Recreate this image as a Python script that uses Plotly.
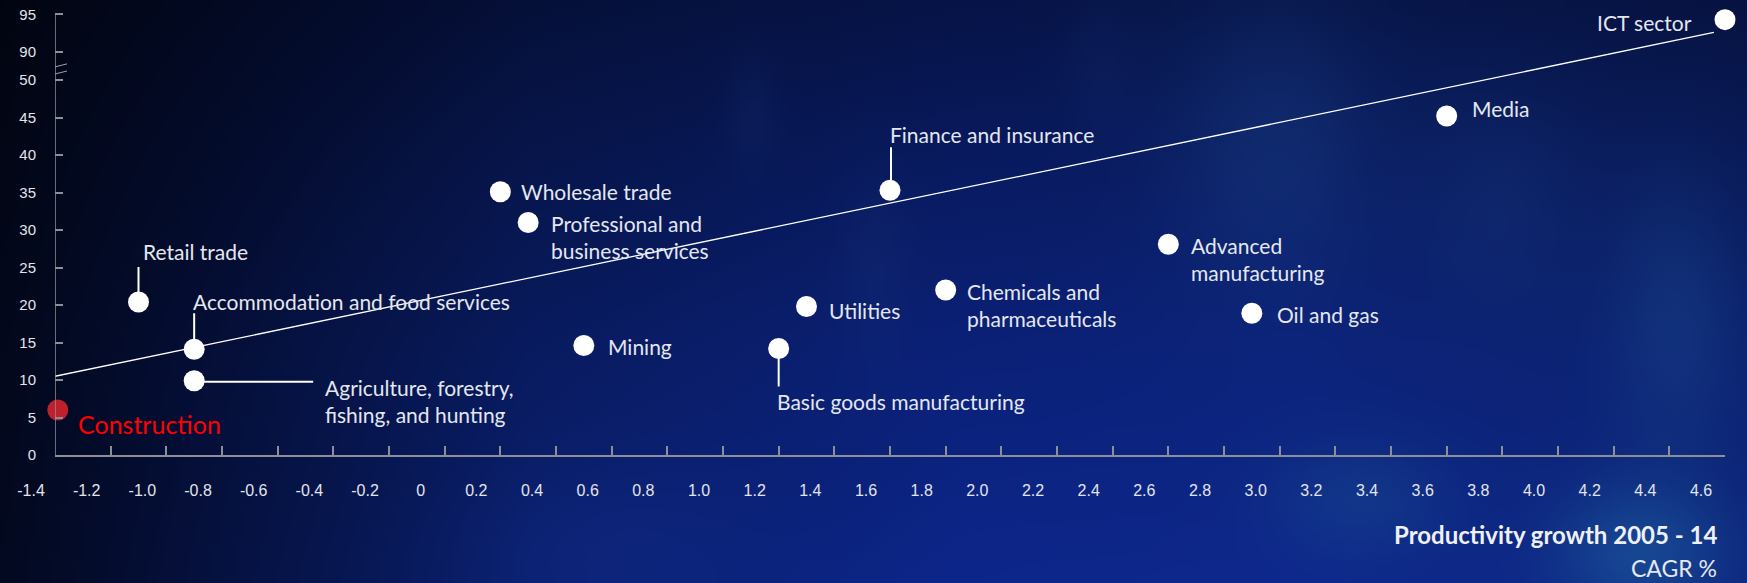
import base64
import struct
import zlib

import numpy as np
import plotly.graph_objects as go

# ---------------- data ----------------
sectors = [
    "Construction", "Retail trade", "Accommodation and food services",
    "Agriculture, forestry, fishing, and hunting", "Wholesale trade",
    "Professional and business services", "Mining", "Basic goods manufacturing",
    "Utilities", "Finance and insurance", "Chemicals and pharmaceuticals",
    "Advanced manufacturing", "Oil and gas", "Media", "ICT sector",
]
productivity_growth = [-1.39, -1.1, -0.9, -0.9, 0.2, 0.3, 0.5, 1.2, 1.3, 1.6, 1.8, 2.6, 2.9, 3.6, 4.6]
sector_value = [6.0, 20.4, 14.1, 9.9, 35.1, 31.0, 14.6, 14.2, 19.8, 35.3, 22.0, 28.1, 18.9, 45.2, 94.3]

trend_x = [-1.4, 4.56]
trend_y = [10.5, 92.6]

x_tick_values = [-1.4, -1.2, -1.0, -0.8, -0.6, -0.4, -0.2, 0.0, 0.2, 0.4, 0.6, 0.8, 1.0, 1.2, 1.4, 1.6,
                 1.8, 2.0, 2.2, 2.4, 2.6, 2.8, 3.0, 3.2, 3.4, 3.6, 3.8, 4.0, 4.2, 4.4, 4.6]
x_tick_labels = ["-1.4", "-1.2", "-1.0", "-0.8", "-0.6", "-0.4", "-0.2", "0", "0.2", "0.4", "0.6", "0.8",
                 "1.0", "1.2", "1.4", "1.6", "1.8", "2.0", "2.2", "2.4", "2.6", "2.8", "3.0", "3.2",
                 "3.4", "3.6", "3.8", "4.0", "4.2", "4.4", "4.6"]
y_tick_values = [0, 5, 10, 15, 20, 25, 30, 35, 40, 45, 50, 90, 95]
y_tick_labels = ["0", "5", "10", "15", "20", "25", "30", "35", "40", "45", "50", "90", "95"]

x_title = "Productivity growth 2005 - 14"
x_subtitle = "CAGR %"

# ---------------- broken y-axis (50 -> 90 compressed) ----------------
BREAK_LO, BREAK_HI, BREAK_GAP = 50.0, 90.0, 3.75


def to_display(v):
    v = float(v)
    if v <= BREAK_LO:
        return v
    if v >= BREAK_HI:
        return v - (BREAK_HI - BREAK_LO) + BREAK_GAP
    return BREAK_LO + (v - BREAK_LO) / (BREAK_HI - BREAK_LO) * BREAK_GAP


# ---------------- style / layout constants ----------------
W, H = 1747, 583
ML, MR, MT, MB = 55, 22, 0, 128
PX_PER_UNIT_Y = 7.5
Y_TOP = (H - MT - MB) / PX_PER_UNIT_Y

LABEL_FONT = dict(family="Lato", size=21, color="#e4e7ee")
TICK_FONT_X = dict(family="Liberation Sans, Arial", size=16, color="#e2e4ea")
TICK_FONT_Y = dict(family="Liberation Sans, Arial", size=15, color="#e2e4ea")
AXIS_COLOR = "#8e8e96"

# label placement: (xanchor, dx px, dy px downward)
label_place = {
    "Construction": ("left", 18, 14),
    "Retail trade": ("left", 2, -51),
    "Accommodation and food services": ("left", -3, -48),
    "Agriculture, forestry, fishing, and hunting": ("left", 129, 20),
    "Wholesale trade": ("left", 19, 0),
    "Professional and business services": ("left", 21, 14),
    "Mining": ("left", 22, 1),
    "Basic goods manufacturing": ("left", -4, 53),
    "Utilities": ("left", 20, 4),
    "Finance and insurance": ("left", -2, -56),
    "Chemicals and pharmaceuticals": ("left", 19, 15),
    "Advanced manufacturing": ("left", 21, 15),
    "Oil and gas": ("left", 23, 1),
    "Media": ("left", 23, -8),
    "ICT sector": ("right", -31, 3),
}
label_text = {
    "Agriculture, forestry, fishing, and hunting": "Agriculture, forestry,<br>fishing, and hunting",
    "Professional and business services": "Professional and<br>business services",
    "Chemicals and pharmaceuticals": "Chemicals and<br>pharmaceuticals",
    "Advanced manufacturing": "Advanced<br>manufacturing",
}
# leader lines: pixel offsets from the point (x0, y0, x1, y1), y downward
leaders = {
    "Retail trade": (0, -35, 0, -8),
    "Accommodation and food services": (0, -36, 0, -9),
    "Agriculture, forestry, fishing, and hunting": (9, 1, 119, 1),
    "Basic goods manufacturing": (0, 9, 0, 38),
    "Finance and insurance": (1, -43, 1, -10),
}


# ---------------- background image ----------------
def make_background(w=437, h=146):
    xs = np.linspace(0, 1, w)[None, :]
    ys = np.linspace(0, 1, h)[:, None]
    stops_x = [0.0, 0.12, 0.3, 0.55, 0.75, 1.0]
    r_s = [3, 5, 9, 11, 12, 11]
    g_s = [8, 15, 27, 33, 35, 32]
    b_s = [28, 55, 95, 120, 122, 110]
    xr = np.interp(xs, stops_x, r_s)
    xg = np.interp(xs, stops_x, g_s)
    xb = np.interp(xs, stops_x, b_s)
    vert = np.interp(ys, [0.0, 0.25, 0.6, 1.0], [0.6, 0.78, 1.0, 1.15])
    img = np.stack([xr * vert, xg * vert, xb * vert], axis=-1)

    def blob(cx, cy, rx, ry, col, a):
        g = np.exp(-(((xs - cx) / rx) ** 2 + ((ys - cy) / ry) ** 2))[..., None]
        return g * a, np.array(col, dtype=float)

    blobs = [
        (0.73, 0.25, 0.06, 0.25, (30, 70, 140), 0.35),
        (0.86, 0.35, 0.05, 0.2, (25, 60, 130), 0.3),
        (0.96, 0.55, 0.04, 0.25, (30, 80, 150), 0.35),
        (0.94, 0.95, 0.05, 0.12, (35, 110, 170), 0.45),
        (0.78, 0.86, 0.05, 0.1, (30, 90, 150), 0.3),
        (0.5, 0.45, 0.02, 0.15, (25, 50, 120), 0.25),
        (0.43, 0.2, 0.015, 0.1, (20, 45, 110), 0.25),
        (0.63, 0.12, 0.02, 0.12, (20, 45, 110), 0.2),
        (0.35, 0.95, 0.08, 0.15, (18, 45, 140), 0.35),
    ]
    for cx, cy, rx, ry, col, a in blobs:
        al, c = blob(cx, cy, rx, ry, col, a)
        img = img * (1 - al) + c * al
    img = np.clip(img, 0, 255).astype(np.uint8)
    raw = b"".join(b"\x00" + img[r].tobytes() for r in range(h))

    def chunk(tag, data):
        return struct.pack(">I", len(data)) + tag + data + struct.pack(">I", zlib.crc32(tag + data) & 0xFFFFFFFF)

    png = b"\x89PNG\r\n\x1a\n" + chunk(b"IHDR", struct.pack(">IIBBBBB", w, h, 8, 2, 0, 0, 0)) \
        + chunk(b"IDAT", zlib.compress(raw, 9)) + chunk(b"IEND", b"")
    return "data:image/png;base64," + base64.b64encode(png).decode()


# ---------------- figure ----------------
disp_y = [to_display(v) for v in sector_value]
colors = ["#c0202c" if s == "Construction" else "#ffffff" for s in sectors]

fig = go.Figure()
fig.add_trace(go.Scatter(
    x=trend_x, y=[to_display(v) for v in trend_y], mode="lines",
    line=dict(color="#ffffff", width=1.3), hoverinfo="skip", showlegend=False,
))
fig.add_trace(go.Scatter(
    x=productivity_growth, y=disp_y, mode="markers", text=sectors,
    marker=dict(size=21, color=colors, line=dict(width=0)),
    cliponaxis=False, hoverinfo="text", showlegend=False,
))

annotations = []
for s, xv, yv in zip(sectors, productivity_growth, disp_y):
    anchor, dx, dy = label_place[s]
    font = dict(LABEL_FONT)
    if s == "Construction":
        font = dict(family="Lato", size=25, color="#ff0000")
    annotations.append(dict(
        x=xv, y=yv, xref="x", yref="y", text=label_text.get(s, s), showarrow=False,
        xanchor=anchor, yanchor="middle", xshift=dx, yshift=-dy, align="left", font=font,
    ))

plot_w = W - ML - MR
plot_h = H - MT - MB
annotations.append(dict(
    x=(1719 - ML) / plot_w, y=(plot_h - (534 - MT)) / plot_h, xref="paper", yref="paper",
    text="<b>" + x_title + "</b>", showarrow=False, xanchor="right", yanchor="middle",
    font=dict(family="Lato", size=24, color="#eef0f5"),
))
annotations.append(dict(
    x=(1719 - ML) / plot_w, y=(plot_h - (568 - MT)) / plot_h, xref="paper", yref="paper",
    text=x_subtitle, showarrow=False, xanchor="right", yanchor="middle",
    font=dict(family="Lato", size=23, color="#e4e7ee"),
))

shapes = []
for s, (x0, y0, x1, y1) in leaders.items():
    i = sectors.index(s)
    shapes.append(dict(
        type="line", xref="x", yref="y", xsizemode="pixel", ysizemode="pixel",
        xanchor=productivity_growth[i], yanchor=disp_y[i],
        x0=x0, x1=x1, y0=-y0, y1=-y1, line=dict(color="#ffffff", width=2),
    ))
# y-axis line up to the top tick
shapes.append(dict(type="line", xref="x", yref="y", x0=x_tick_values[0], x1=x_tick_values[0],
                   y0=0, y1=to_display(y_tick_values[-1]), line=dict(color=AXIS_COLOR, width=1.5)))
# axis break marks
for yc in (to_display(BREAK_LO) + 1.75, to_display(BREAK_LO) + 0.8):
    shapes.append(dict(
        type="line", xref="x", yref="y", xsizemode="pixel", ysizemode="pixel",
        xanchor=x_tick_values[0], yanchor=yc, x0=-12, x1=12, y0=-3, y1=3,
        line=dict(color="#a0a0a8", width=1),
    ))

fig.update_layout(
    width=W, height=H, margin=dict(l=ML, r=MR, t=MT, b=MB, pad=0),
    paper_bgcolor="#06103a", plot_bgcolor="rgba(0,0,0,0)",
    annotations=annotations, shapes=shapes,
    images=[dict(source=make_background(), xref="paper", yref="paper",
                 x=-ML / plot_w, y=1 + MT / plot_h, sizex=W / plot_w, sizey=H / plot_h,
                 xanchor="left", yanchor="top", sizing="stretch", layer="below")],
    xaxis=dict(range=[-1.4, 4.6], tickvals=x_tick_values, ticktext=x_tick_labels,
               showgrid=False, zeroline=False, showline=True, linecolor=AXIS_COLOR, linewidth=1.5,
               ticks="inside", ticklen=9, tickwidth=1.5, tickcolor=AXIS_COLOR,
               tickfont=TICK_FONT_X, ticklabelstandoff=20, ticklabelshift=-24, fixedrange=True),
    yaxis=dict(range=[0, Y_TOP], tickvals=[to_display(v) for v in y_tick_values], ticktext=y_tick_labels,
               showgrid=False, zeroline=False, showline=False,
               ticks="inside", ticklen=8, tickwidth=1.5, tickcolor=AXIS_COLOR,
               tickfont=TICK_FONT_Y, ticklabelstandoff=18, fixedrange=True),
    hovermode="closest",
)

fig.write_html(
    "out.html",
    config={"displayModeBar": False},
    post_script="document.body.style.margin='0px';document.body.style.overflow='hidden';",
)
